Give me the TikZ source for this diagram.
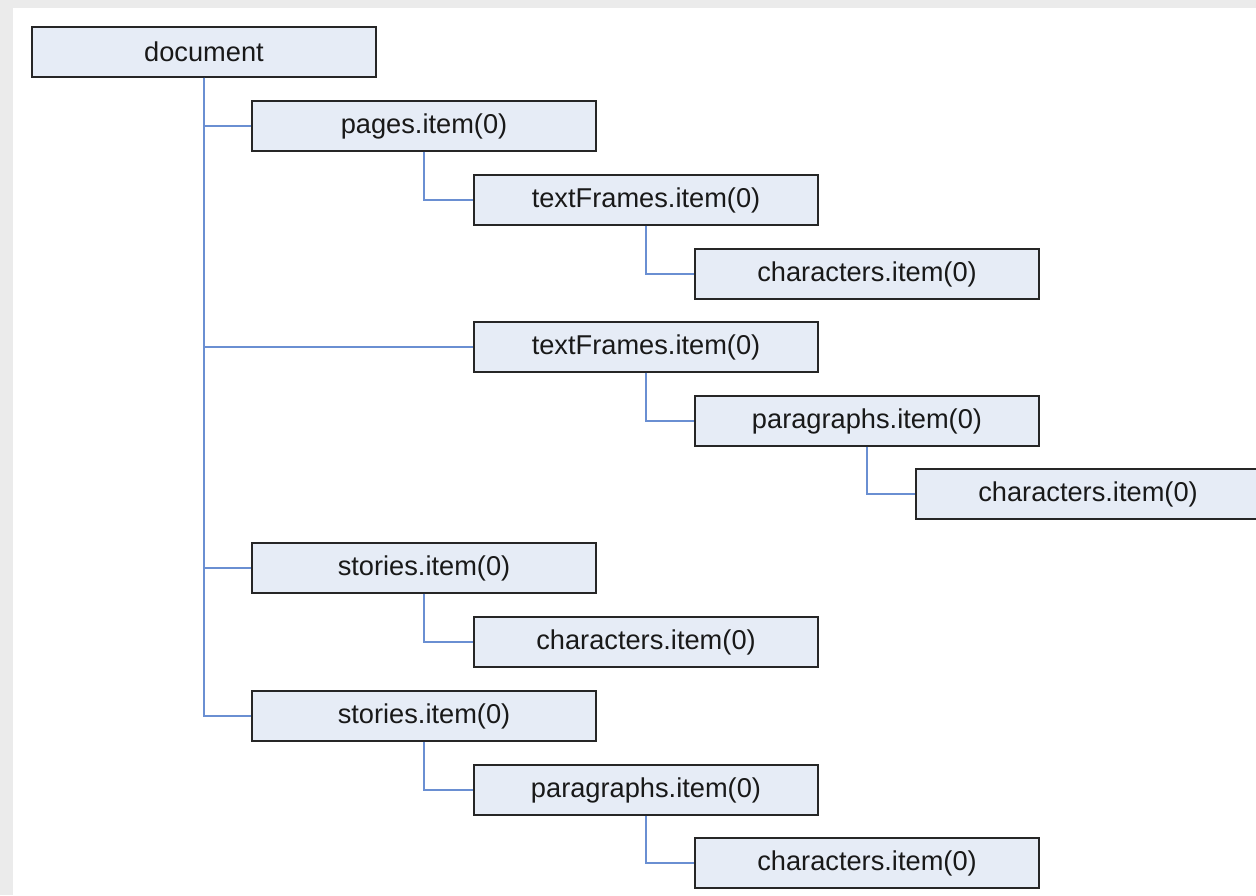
\documentclass[tikz,border=0pt]{standalone}
\usepackage{fontspec}
\setmainfont{Liberation Sans}
\definecolor{boxfill}{HTML}{E6ECF6}
\definecolor{linkblue}{HTML}{6A8FD2}
\definecolor{pagegray}{HTML}{EBEBEB}
\begin{document}
\begin{tikzpicture}[
    x=0.02cm, y=-0.02cm,
    every node/.style={rectangle, draw=black!85, fill=boxfill, line width=0.85pt,
        minimum width=6.88cm, minimum height=1cm, inner sep=0pt,
        font=\fontsize{15.5}{18}\selectfont, text=black!90},
    link/.style={draw=linkblue, line width=0.85pt}
]
\fill[pagegray] (0,0) rectangle (1256,895);
\fill[white] (13,8) rectangle (1256,895);
\useasboundingbox (0,0) rectangle (1256,895);
\node (doc) at (204,52) {document};
\node (pg) at (424,126) {pages.item(0)};
\node (tfa) at (646,200) {textFrames.item(0)};
\node (cha) at (867,274) {characters.item(0)};
\node (tfb) at (646,347) {textFrames.item(0)};
\node (paa) at (867,421) {paragraphs.item(0)};
\node (chb) at (1088,494) {characters.item(0)};
\node (sta) at (424,568) {stories.item(0)};
\node (chc) at (646,642) {characters.item(0)};
\node (stb) at (424,716) {stories.item(0)};
\node (pab) at (646,790) {paragraphs.item(0)};
\node (chd) at (867,863) {characters.item(0)};
% connectors
\foreach \p/\c in {doc/pg, doc/tfb, doc/sta, doc/stb, pg/tfa, tfa/cha,
                   tfb/paa, paa/chb, sta/chc, stb/pab, pab/chd}
    \draw[link] (\p.south) |- (\c.west);
\end{tikzpicture}
\end{document}
